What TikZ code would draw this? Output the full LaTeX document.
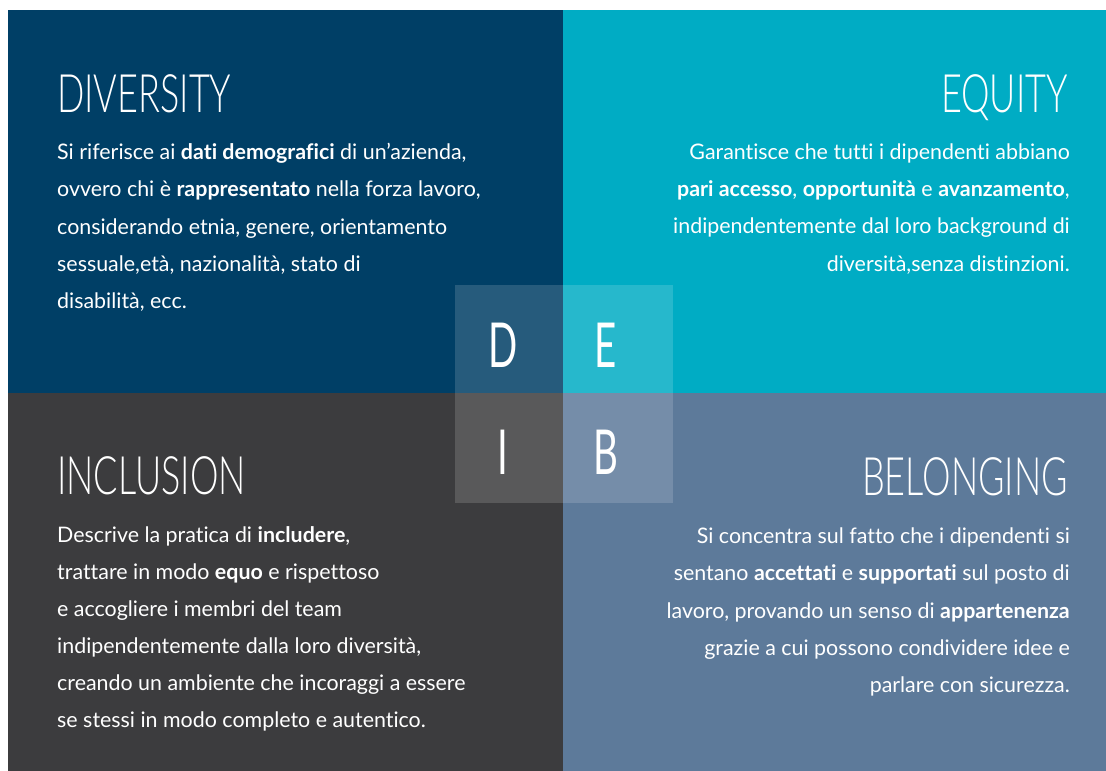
\documentclass[tikz,border=0pt]{standalone}
\usepackage{fontspec}
\setmainfont[Ligatures=NoCommon]{Lato}
\newfontfamily\titlefont[FakeStretch=0.68]{Lato Light}
\newfontfamily\letterfont[FakeStretch=0.62]{Lato}
\definecolor{navy}{RGB}{0,63,102}
\definecolor{teal}{RGB}{0,172,196}
\definecolor{charcoal}{RGB}{60,60,62}
\definecolor{slate}{RGB}{93,122,154}
\begin{document}
\begin{tikzpicture}[x=1pt,y=-1pt,
  body/.style={inner sep=0pt,text=white,font=\fontsize{21.4}{25}\selectfont},
  bl/.style={body,anchor=base west},
  br/.style={body,anchor=base east},
  ttl/.style={inner sep=0pt,text=white,font=\titlefont\fontsize{53}{60}\selectfont},
  letter/.style={inner sep=0pt,text=white,anchor=base,font=\letterfont\fontsize{62}{70}\selectfont}]
\useasboundingbox (0,0) rectangle (1106,771);
\fill[white] (0,0) rectangle (1106,771);
\fill[navy] (8,10) rectangle (563,393);
\fill[teal] (563,10) rectangle (1106,393);
\fill[charcoal] (8,393) rectangle (563,771);
\fill[slate] (563,393) rectangle (1106,771);
\fill[white,opacity=0.15] (455,285) rectangle (672.5,502.5);
% titles
\node[ttl,anchor=base west] (tD) at (57,112) {DIVERSITY};
\node[ttl,anchor=base east] (tE) at (1068,112) {EQUITY};
\node[ttl,anchor=base west] (tI) at (57,494) {INCLUSION};
\node[ttl,anchor=base east] (tB) at (1068,495) {BELONGING};
% center letters
\node[letter] (lD) at (503,367) {D};
\node[letter] (lE) at (606,367) {E};
\node[letter] (lI) at (503,474) {I};
\node[letter] (lB) at (606,474) {B};
% diversity text
\node[bl] (d1) at (57,159) {Si riferisce ai \textbf{dati demografici} di un’azienda,};
\node[bl] (d2) at (57,196.5) {ovvero chi è \textbf{rappresentato} nella forza lavoro,};
\node[bl] (d3) at (57,234) {considerando etnia, genere, orientamento};
\node[bl] (d4) at (57,271) {sessuale,età, nazionalità, stato di};
\node[bl] (d5) at (57,308) {disabilità, ecc.};
% equity text
\node[br] (e1) at (1070,159) {Garantisce che tutti i dipendenti abbiano};
\node[br] (e2) at (1070,196) {\textbf{pari accesso}, \textbf{opportunità} e \textbf{avanzamento},};
\node[br] (e3) at (1070,233.5) {indipendentemente dal loro background di};
\node[br] (e4) at (1070,271) {diversità,senza distinzioni.};
% inclusion text
\node[bl] (i1) at (57,542) {Descrive la pratica di \textbf{includere},};
\node[bl] (i2) at (57,579) {trattare in modo \textbf{equo} e rispettoso};
\node[bl] (i3) at (57,616.5) {e accogliere i membri del team};
\node[bl] (i4) at (57,653.5) {indipendentemente dalla loro diversità,};
\node[bl] (i5) at (57,690.5) {creando un ambiente che incoraggi a essere};
\node[bl] (i6) at (57,727.5) {se stessi in modo completo e autentico.};
% belonging text
\node[br] (b1) at (1070,543) {Si concentra sul fatto che i dipendenti si};
\node[br] (b2) at (1070,580.5) {sentano \textbf{accettati} e \textbf{supportati} sul posto di};
\node[br] (b3) at (1070,618) {lavoro, provando un senso di \textbf{appartenenza}};
\node[br] (b4) at (1070,655) {grazie a cui possono condividere idee e};
\node[br] (b5) at (1070,692) {parlare con sicurezza.};
\end{tikzpicture}
\end{document}
